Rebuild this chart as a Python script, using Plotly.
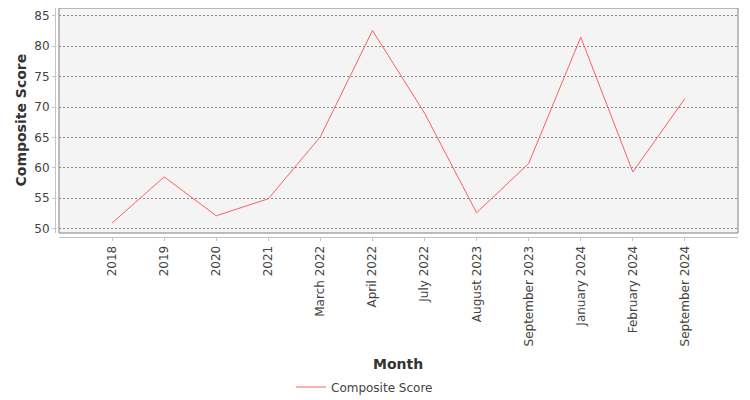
import plotly.graph_objects as go

months = ["2018", "2019", "2020", "2021", "March 2022", "April 2022", "July 2022",
          "August 2023", "September 2023", "January 2024", "February 2024", "September 2024"]
composite_score = [50.9, 58.5, 52.1, 54.9, 65.1, 82.6, 69.0, 52.6, 60.7, 81.5, 59.3, 71.4]

# the page body adds an 8px margin, so the figure is drawn 8px smaller
W, H = 742, 392
left, right, top, bottom = 47, 12, 0, 163
gap = 4  # axes sit a few pixels outside the frame
pw, ph = W - left - right, H - top - bottom

fig = go.Figure()
fig.add_trace(go.Scatter(x=months, y=composite_score, mode="lines", name="Composite Score",
                         line=dict(color="#ff5f5f", width=1)))

fig.update_layout(
    width=W, height=H,
    margin=dict(l=left, r=right, t=top, b=bottom, autoexpand=False),
    paper_bgcolor="white", plot_bgcolor="white",
    font=dict(family="DejaVu Sans", size=12, color="#444444"),
    showlegend=True,
    legend=dict(orientation="h", x=356.5 / W, xref="container", xanchor="center",
                y=-150 / ph, yanchor="middle", font=dict(size=12, color="#444444")),
    xaxis=dict(domain=[gap / pw, 1], anchor="free", position=0, automargin=False,
               range=[-1.02, 12.02], type="category", showgrid=False, zeroline=False,
               showline=True, linecolor="#c4c4c4", linewidth=1,
               ticks="outside", ticklen=3, tickcolor="#c4c4c4", tickangle=-90,
               tickfont=dict(size=12, color="#444444")),
    yaxis=dict(domain=[gap / ph, 1], anchor="free", position=0, automargin=False,
               range=[49.26, 86.3], tickvals=[50, 55, 60, 65, 70, 75, 80, 85],
               showgrid=True, gridcolor="#8a8a8a", gridwidth=1, griddash="2px,2px",
               zeroline=False, showline=True, linecolor="#c4c4c4", linewidth=1,
               ticks="outside", ticklen=3, tickcolor="#c4c4c4",
               tickfont=dict(size=12, color="#444444")),
)

# plot frame and grey background
fig.add_shape(type="rect", xref="paper", yref="paper", x0=gap / pw, y0=gap / ph, x1=1, y1=1,
              line=dict(color="#808080", width=1), fillcolor="#f4f4f4", layer="below")

fig.add_annotation(text="<b>Month</b>", xref="paper", yref="paper",
                   x=(390.5 - left) / pw, y=-127 / ph,
                   showarrow=False, font=dict(size=14, color="#333333"),
                   xanchor="center", yanchor="middle")
fig.add_annotation(text="<b>Composite Score</b>", xref="paper", yref="paper",
                   x=(12 - left) / pw, y=116.5 / ph, textangle=-90,
                   showarrow=False, font=dict(size=14, color="#333333"),
                   xanchor="center", yanchor="middle")

fig.write_html("out.html")
